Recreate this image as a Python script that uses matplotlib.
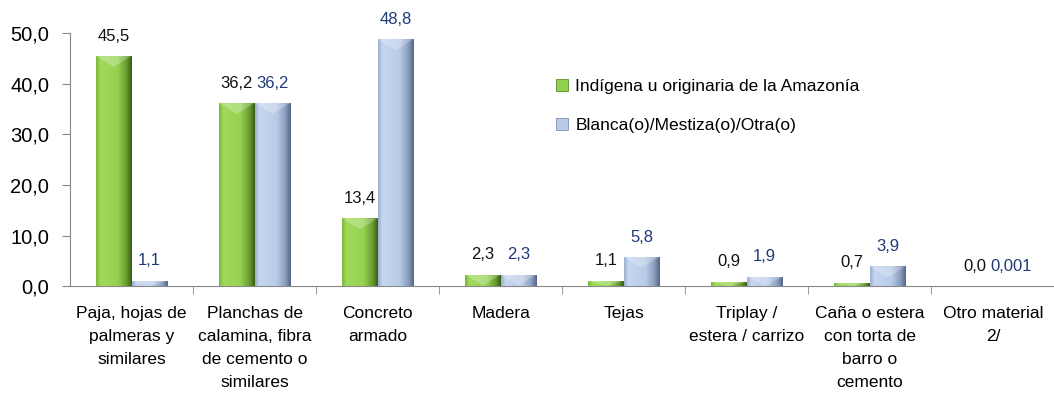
import numpy as np
import matplotlib.pyplot as plt
from matplotlib.colors import LinearSegmentedColormap
from matplotlib.patches import Patch

plt.rcParams['font.family'] = ['Liberation Sans Narrow', 'Liberation Sans', 'DejaVu Sans']

categorias = ['Paja, hojas de\npalmeras y\nsimilares',
              'Planchas de\ncalamina, fibra\nde cemento o\nsimilares',
              'Concreto\narmado', 'Madera', 'Tejas',
              'Triplay /\nestera / carrizo',
              'Caña o estera\ncon torta de\nbarro o\ncemento',
              'Otro material\n2/']
indigena = [45.5, 36.2, 13.4, 2.3, 1.1, 0.9, 0.7, 0.0]
blanca = [1.1, 36.2, 48.8, 2.3, 5.8, 1.9, 3.9, 0.001]
etiq_indigena = ['45,5', '36,2', '13,4', '2,3', '1,1', '0,9', '0,7', '0,0']
etiq_blanca = ['1,1', '36,2', '48,8', '2,3', '5,8', '1,9', '3,9', '0,001']

verde = LinearSegmentedColormap.from_list('verde', [
    (0.0, '#7DB83C'), (0.12, '#A0DA5C'), (0.6, '#96D252'),
    (0.85, '#6A9E32'), (1.0, '#3A5E16')])
azul = LinearSegmentedColormap.from_list('azul', [
    (0.0, '#9CB0D0'), (0.12, '#C6D6EF'), (0.6, '#B9CBE7'),
    (0.85, '#8B9EBE'), (1.0, '#56678A')])

fig = plt.figure(figsize=(10.54, 3.98), dpi=100)
ax = fig.add_axes([0.0664, 0.281, 0.934, 0.636])

x = np.arange(len(categorias))
w = 0.29
grad = np.linspace(0, 1, 64).reshape(1, -1)


def barras(xs, vals, cmap, base):
    rects = ax.bar(xs, vals, w, color=base, zorder=2)
    for r in rects:
        h = r.get_height()
        if h <= 0:
            continue
        img = ax.imshow(grad, cmap=cmap, aspect='auto', zorder=3,
                        extent=[r.get_x(), r.get_x() + r.get_width(), 0, h])
        img.set_clip_path(r)
        # lighter bevel on the top of each bar
        top = min(h, 2.2)
        ax.fill([r.get_x(), r.get_x() + r.get_width(),
                 r.get_x() + r.get_width() * 0.5],
                [h, h, h - top], color='white', alpha=0.25, lw=0, zorder=4)
    return rects


barras(x - w / 2, indigena, verde, '#92D050')
barras(x + w / 2, blanca, azul, '#B9CBE7')

for i in range(len(categorias)):
    ax.text(x[i] - w / 2, indigena[i] + 2.4, etiq_indigena[i], ha='center',
            va='bottom', fontsize=12, color='#111111')
    ax.text(x[i] + w / 2, blanca[i] + 2.4, etiq_blanca[i], ha='center',
            va='bottom', fontsize=12, color='#1F3A78')

ax.set_xlim(-0.5, len(categorias) - 0.5)
ax.set_ylim(0, 50)
ax.set_yticks(np.arange(0, 51, 10))
ax.set_yticklabels([f'{v:.1f}'.replace('.', ',') for v in np.arange(0, 51, 10)],
                   fontsize=14.5)
ax.set_xticks(x)
ax.set_xticklabels(categorias, fontsize=12.5, linespacing=1.68, va='top')
ax.set_xticks(np.arange(0.5, len(categorias) - 0.5, 1), minor=True)
ax.tick_params(axis='x', which='major', length=0, pad=14)
ax.tick_params(axis='x', which='minor', length=6, color='#888888')
ax.tick_params(axis='y', length=6, color='#888888', pad=9)

for s in ['top', 'right']:
    ax.spines[s].set_visible(False)
ax.spines['left'].set_color('#888888')
ax.spines['bottom'].set_color('#888888')

handles = [Patch(facecolor='#92D050', edgecolor='#5E8E2A', lw=0.6),
           Patch(facecolor='#B9CBE7', edgecolor='#7F92B2', lw=0.6)]
fig.legend(handles, ['Indígena u originaria de la Amazonía',
                     'Blanca(o)/Mestiza(o)/Otra(o)'],
           loc='upper left', bbox_to_anchor=(0.513, 0.84), frameon=False,
           fontsize=12.5, handlelength=0.7, handleheight=0.7,
           handletextpad=0.4, labelspacing=1.35)

fig.savefig('out.png', dpi=100)
